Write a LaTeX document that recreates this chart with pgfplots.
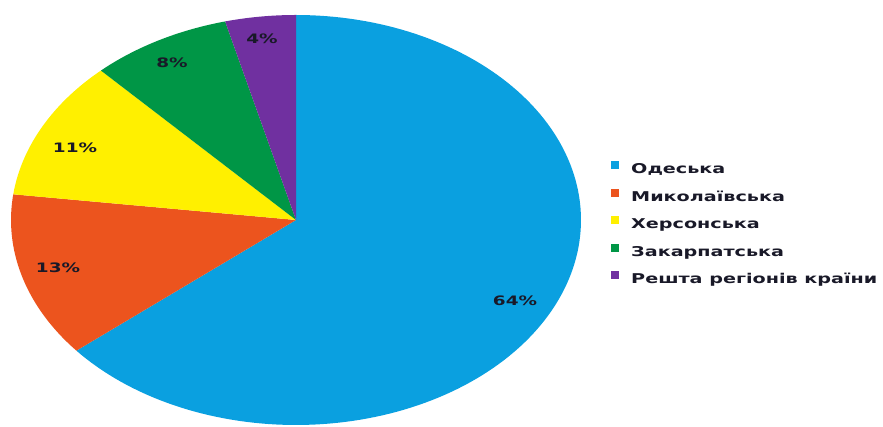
\documentclass[border=0pt]{standalone}
\usepackage{fontspec}
\setmainfont{DejaVu Sans}[FakeStretch=1.42]
\usepackage{pgfplots}
\pgfplotsset{compat=1.18}
\definecolor{cblue}{RGB}{10,160,224}
\definecolor{corange}{RGB}{236,84,30}
\definecolor{cyellow}{RGB}{255,240,0}
\definecolor{cgreen}{RGB}{0,150,70}
\definecolor{cpurple}{RGB}{112,48,160}
\definecolor{labc}{RGB}{25,25,40}
\begin{document}
\begin{tikzpicture}
\begin{axis}[
  name=pie,
  scale only axis, width=883pt, height=427pt,
  xmin=0, xmax=883, ymin=0, ymax=427,
  axis lines=none, ticks=none, clip=true,
  legend cell align=left,
  legend image code/.code={\fill[#1] (0pt,1pt) rectangle (8pt,9pt);},
  legend style={at={(axis cs:611,266)}, anchor=north west, draw=none, fill=none,
    font=\fontsize{13.5}{16}\selectfont\bfseries, text=labc,
    inner sep=0pt, row sep=12pt, column sep=12pt,
    nodes={inner sep=0pt, text height=10pt, text depth=3pt}},
]
% percentages: 64, 13, 11, 8, 4 -> angles (deg, counterclockwise from top)
\addplot[draw=none, fill=cblue, domain=-140.4:90, samples=150]
  ({296+285*cos(x)},{207+205*sin(x)}) -- (296,207) -- cycle;
\addlegendentry{Одеська}
\addplot[draw=none, fill=corange, domain=172.8:219.6, samples=40]
  ({296+285*cos(x)},{207+205*sin(x)}) -- (296,207) -- cycle;
\addlegendentry{Миколаївська}
\addplot[draw=none, fill=cyellow, domain=133.2:172.8, samples=40]
  ({296+285*cos(x)},{207+205*sin(x)}) -- (296,207) -- cycle;
\addlegendentry{Херсонська}
\addplot[draw=none, fill=cgreen, domain=104.4:133.2, samples=30]
  ({296+285*cos(x)},{207+205*sin(x)}) -- (296,207) -- cycle;
\addlegendentry{Закарпатська}
\addplot[draw=none, fill=cpurple, domain=90:104.4, samples=20]
  ({296+285*cos(x)},{207+205*sin(x)}) -- (296,207) -- cycle;
\addlegendentry{Решта регіонів країни}

\begin{scope}[every node/.style={font=\fontsize{13}{16}\selectfont\bfseries, text=labc}]
\node at (axis cs:515,126) {64\%};
\node at (axis cs:58,159) {13\%};
\node at (axis cs:75,279) {11\%};
\node at (axis cs:172,364) {8\%};
\node at (axis cs:262,388) {4\%};
\end{scope}
\end{axis}
\path (pie.south west) rectangle (pie.north east);
\end{tikzpicture}
\end{document}
